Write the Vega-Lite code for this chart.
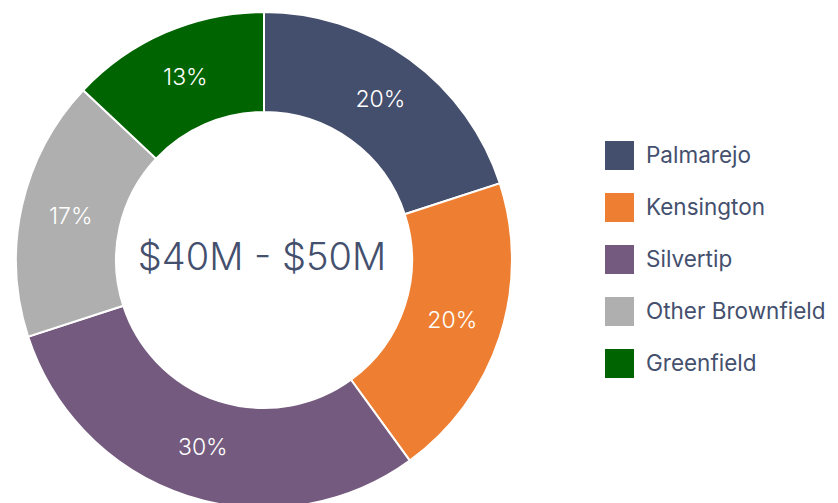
{
  "$schema": "https://vega.github.io/schema/vega-lite/v6.json",
  "width": 528,
  "height": 520,
  "padding": 0,
  "background": "white",
  "config": {"view": {"stroke": null}, "font": "Inter"},
  "data": {"values": [
    {"site": "Palmarejo", "share": 0.20, "ord": 1},
    {"site": "Kensington", "share": 0.20, "ord": 2},
    {"site": "Silvertip", "share": 0.30, "ord": 3},
    {"site": "Other Brownfield", "share": 0.17, "ord": 4},
    {"site": "Greenfield", "share": 0.13, "ord": 5}
  ]},
  "layer": [
    {
      "mark": {"type": "arc", "outerRadius": 248, "innerRadius": 148, "stroke": "white", "strokeWidth": 2},
      "encoding": {
        "theta": {"field": "share", "type": "quantitative", "stack": true},
        "order": {"field": "ord", "type": "quantitative"},
        "color": {
          "field": "site", "type": "nominal",
          "scale": {
            "domain": ["Palmarejo", "Kensington", "Silvertip", "Other Brownfield", "Greenfield"],
            "range": ["#444E6D", "#EE7F32", "#745A7E", "#AFAFAF", "#006400"]
          },
          "legend": {
            "title": null,
            "orient": "none",
            "legendX": 605,
            "legendY": 141,
            "symbolType": "square",
            "symbolSize": 841,
            "symbolStrokeWidth": 0,
            "labelFontSize": 22.5,
            "labelFontWeight": 400,
            "labelColor": "#44506E",
            "labelFont": "Inter",
            "labelOffset": 12,
            "rowPadding": 23,
            "labelLimit": 300
          }
        }
      }
    },
    {
      "mark": {"type": "text", "radius": 198, "fontSize": 23, "fontWeight": 300, "color": "white", "font": "Inter"},
      "encoding": {
        "theta": {"field": "share", "type": "quantitative", "stack": true},
        "order": {"field": "ord", "type": "quantitative"},
        "text": {"field": "share", "type": "quantitative", "format": ".0%"}
      }
    },
    {
      "data": {"values": [{"center": "$40M - $50M"}]},
      "mark": {"type": "text", "fontSize": 38, "fontWeight": 300, "color": "#44506E", "font": "Inter", "align": "center", "baseline": "middle", "dx": -2, "dy": -1},
      "encoding": {
        "text": {"field": "center", "type": "nominal"}
      }
    }
  ]
}
